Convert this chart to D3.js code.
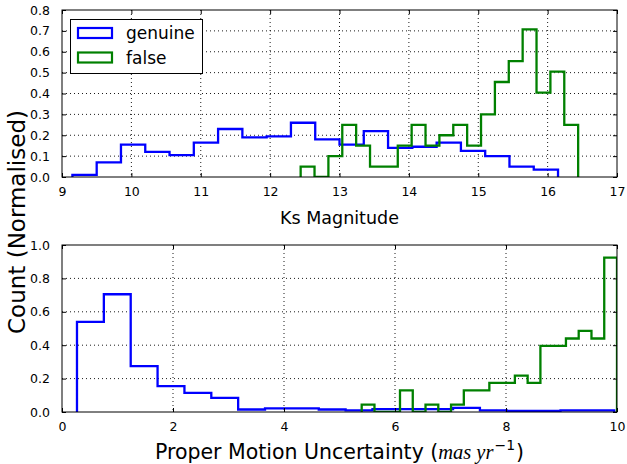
<!DOCTYPE html>
<html>
<head>
<meta charset="utf-8">
<script src="https://cdn.jsdelivr.net/npm/d3@7"></script>
<style>
  html, body { margin: 0; padding: 0; background: #fff; }
  svg { display: block; font-family: "DejaVu Sans", sans-serif; }
</style>
</head>
<body>
<svg id="chart" width="627" height="464"></svg>
<script>
// ---------- DATA ----------
// Top panel: Ks magnitude histograms (normalised counts)
const ksGenuineRange = [9.15, 16.15];   // 20 bins
const ksGenuine = [0.01, 0.07, 0.155, 0.12, 0.105, 0.165, 0.23, 0.19, 0.195, 0.26,
                   0.18, 0.155, 0.22, 0.14, 0.145, 0.165, 0.125, 0.10, 0.05, 0.035];
const ksFalseRange = [12.44, 16.44];    // 20 bins
const ksFalse = [0.05, 0.0, 0.10, 0.25, 0.15, 0.05, 0.05, 0.15, 0.25, 0.15,
                 0.20, 0.25, 0.15, 0.30, 0.455, 0.555, 0.707, 0.404, 0.505, 0.25];

// Bottom panel: proper motion uncertainty histograms
const pmGenuineRange = [0.27, 9.95];    // 20 bins
const pmGenuine = [0.54, 0.705, 0.275, 0.155, 0.115, 0.085, 0.015, 0.022, 0.022, 0.015,
                   0.01, 0.017, 0.017, 0.017, 0.025, 0.01, 0.006, 0.006, 0.01, 0.01];
const pmFalseRange = [5.4, 10.0];       // 20 bins
const pmFalse = [0.044, 0.0, 0.0, 0.13, 0.0, 0.044, 0.0, 0.044, 0.13, 0.13,
                 0.174, 0.174, 0.218, 0.174, 0.396, 0.396, 0.44, 0.486, 0.44, 0.924];

const seriesNames = ["genuine", "false"];
const seriesColors = ["#0000ff", "#008000"];

const ksXTicks = [9, 10, 11, 12, 13, 14, 15, 16, 17];
const ksYTicks = [0.0, 0.1, 0.2, 0.3, 0.4, 0.5, 0.6, 0.7, 0.8];
const pmXTicks = [0, 2, 4, 6, 8, 10];
const pmYTicks = [0.0, 0.2, 0.4, 0.6, 0.8, 1.0];

const ksXLabel = "Ks Magnitude";
const pmXLabelText = "Proper Motion Uncertainty (";
const yLabel = "Count (Normalised)";

// ---------- LAYOUT ----------
const svg = d3.select("#chart");
const plotLeft = 62, plotRight = 617;

function edgesFor(range, n) {
  const w = (range[1] - range[0]) / n;
  return d3.range(n + 1).map(i => range[0] + i * w);
}

function stepPoints(range, vals) {
  const e = edgesFor(range, vals.length);
  const pts = [[e[0], 0]];
  vals.forEach((v, i) => { pts.push([e[i], v]); pts.push([e[i + 1], v]); });
  pts.push([e[vals.length], 0]);
  return pts;
}

function panel(cfg) {
  const x = d3.scaleLinear().domain(cfg.xDomain).range([plotLeft, plotRight]);
  const y = d3.scaleLinear().domain(cfg.yDomain).range([cfg.bottom, cfg.top]);
  const g = svg.append("g");

  // grid
  const grid = g.append("g").attr("stroke", "#000").attr("stroke-width", 0.9)
    .attr("stroke-dasharray", "1,3").attr("fill", "none");
  cfg.xTicks.forEach(t => {
    if (x(t) > plotLeft + 0.5 && x(t) < plotRight - 0.5)
      grid.append("line").attr("x1", x(t)).attr("x2", x(t)).attr("y1", cfg.top).attr("y2", cfg.bottom);
  });
  cfg.yTicks.forEach(t => {
    if (y(t) < cfg.bottom - 0.5 && y(t) > cfg.top + 0.5)
      grid.append("line").attr("x1", plotLeft).attr("x2", plotRight).attr("y1", y(t)).attr("y2", y(t));
  });

  // histograms
  const line = d3.line().x(d => x(d[0])).y(d => y(d[1]));
  const clipId = "clip" + cfg.id;
  svg.append("clipPath").attr("id", clipId).append("rect")
    .attr("x", plotLeft).attr("y", cfg.top - 2).attr("width", plotRight - plotLeft).attr("height", cfg.bottom - cfg.top + 2);
  cfg.series.forEach((s, i) => {
    g.append("path").attr("d", line(stepPoints(s.range, s.vals)))
      .attr("fill", "none").attr("stroke", seriesColors[i]).attr("stroke-width", 2.3)
      .attr("stroke-linejoin", "miter").attr("clip-path", `url(#${clipId})`);
  });

  // axes via d3 (ticks inside, on all sides)
  const fmtY = d3.format(".1f");
  const bottomAxis = d3.axisBottom(x).tickValues(cfg.xTicks).tickSize(-4).tickPadding(10).tickFormat(d3.format("d"));
  const topAxis = d3.axisTop(x).tickValues(cfg.xTicks).tickSize(-4).tickFormat("");
  const leftAxis = d3.axisLeft(y).tickValues(cfg.yTicks).tickSize(-4).tickPadding(12).tickFormat(fmtY);
  const rightAxis = d3.axisRight(y).tickValues(cfg.yTicks).tickSize(-4).tickFormat("");

  const styleAxis = a => {
    a.select(".domain").remove();
    a.selectAll(".tick line").attr("stroke", "#000").attr("stroke-width", 1);
    a.selectAll("text").attr("font-family", "DejaVu Sans, sans-serif").attr("font-size", 12.5).attr("fill", "#000");
  };
  g.append("g").attr("transform", `translate(0,${cfg.bottom})`).call(bottomAxis).call(styleAxis);
  g.append("g").attr("transform", `translate(0,${cfg.top})`).call(topAxis).call(styleAxis);
  g.append("g").attr("transform", `translate(${plotLeft},0)`).call(leftAxis).call(styleAxis);
  g.append("g").attr("transform", `translate(${plotRight},0)`).call(rightAxis).call(styleAxis);

  // frame
  g.append("rect").attr("x", plotLeft).attr("y", cfg.top).attr("width", plotRight - plotLeft)
    .attr("height", cfg.bottom - cfg.top).attr("fill", "none").attr("stroke", "#000").attr("stroke-width", 1);
  return { x, y, g };
}

const topPanel = panel({
  id: "top", top: 10, bottom: 177, xDomain: [9, 17], yDomain: [0, 0.8],
  xTicks: ksXTicks, yTicks: ksYTicks,
  series: [{ range: ksGenuineRange, vals: ksGenuine }, { range: ksFalseRange, vals: ksFalse }]
});
const botPanel = panel({
  id: "bot", top: 245, bottom: 412, xDomain: [0, 10], yDomain: [0, 1.0],
  xTicks: pmXTicks, yTicks: pmYTicks,
  series: [{ range: pmGenuineRange, vals: pmGenuine }, { range: pmFalseRange, vals: pmFalse }]
});

// x labels
svg.append("text").attr("x", (plotLeft + plotRight) / 2).attr("y", 224).attr("text-anchor", "middle")
  .attr("font-size", 17.5).text(ksXLabel);

const pl = svg.append("text").attr("x", (plotLeft + plotRight) / 2).attr("y", 459).attr("text-anchor", "middle")
  .attr("font-size", 20.5);
pl.append("tspan").text(pmXLabelText);
pl.append("tspan").attr("font-family", "Liberation Serif, serif").attr("font-style", "italic").text("mas");
pl.append("tspan").attr("font-family", "Liberation Serif, serif").attr("font-style", "italic").attr("dx", 5).text("yr");
pl.append("tspan").attr("font-family", "DejaVu Sans, sans-serif").attr("font-size", 14).attr("dx", 1).attr("dy", -9).text("\u22121");
pl.append("tspan").attr("dx", 1).attr("dy", 9).text(")");

// y label
svg.append("text").attr("transform", `translate(25,222) rotate(-90)`).attr("text-anchor", "middle")
  .attr("font-size", 23).text(yLabel);

// legend
const lg = svg.append("g");
lg.append("rect").attr("x", 70.5).attr("y", 19.5).attr("width", 132).attr("height", 54)
  .attr("fill", "#fff").attr("stroke", "#000").attr("stroke-width", 1);
seriesNames.forEach((n, i) => {
  const yy = 28 + i * 24.5;
  lg.append("rect").attr("x", 78).attr("y", yy).attr("width", 34).attr("height", 10)
    .attr("fill", "none").attr("stroke", seriesColors[i]).attr("stroke-width", 2.2);
  lg.append("text").attr("x", 126).attr("y", yy + 11).attr("font-size", 17).text(n);
});
</script>
</body>
</html>
